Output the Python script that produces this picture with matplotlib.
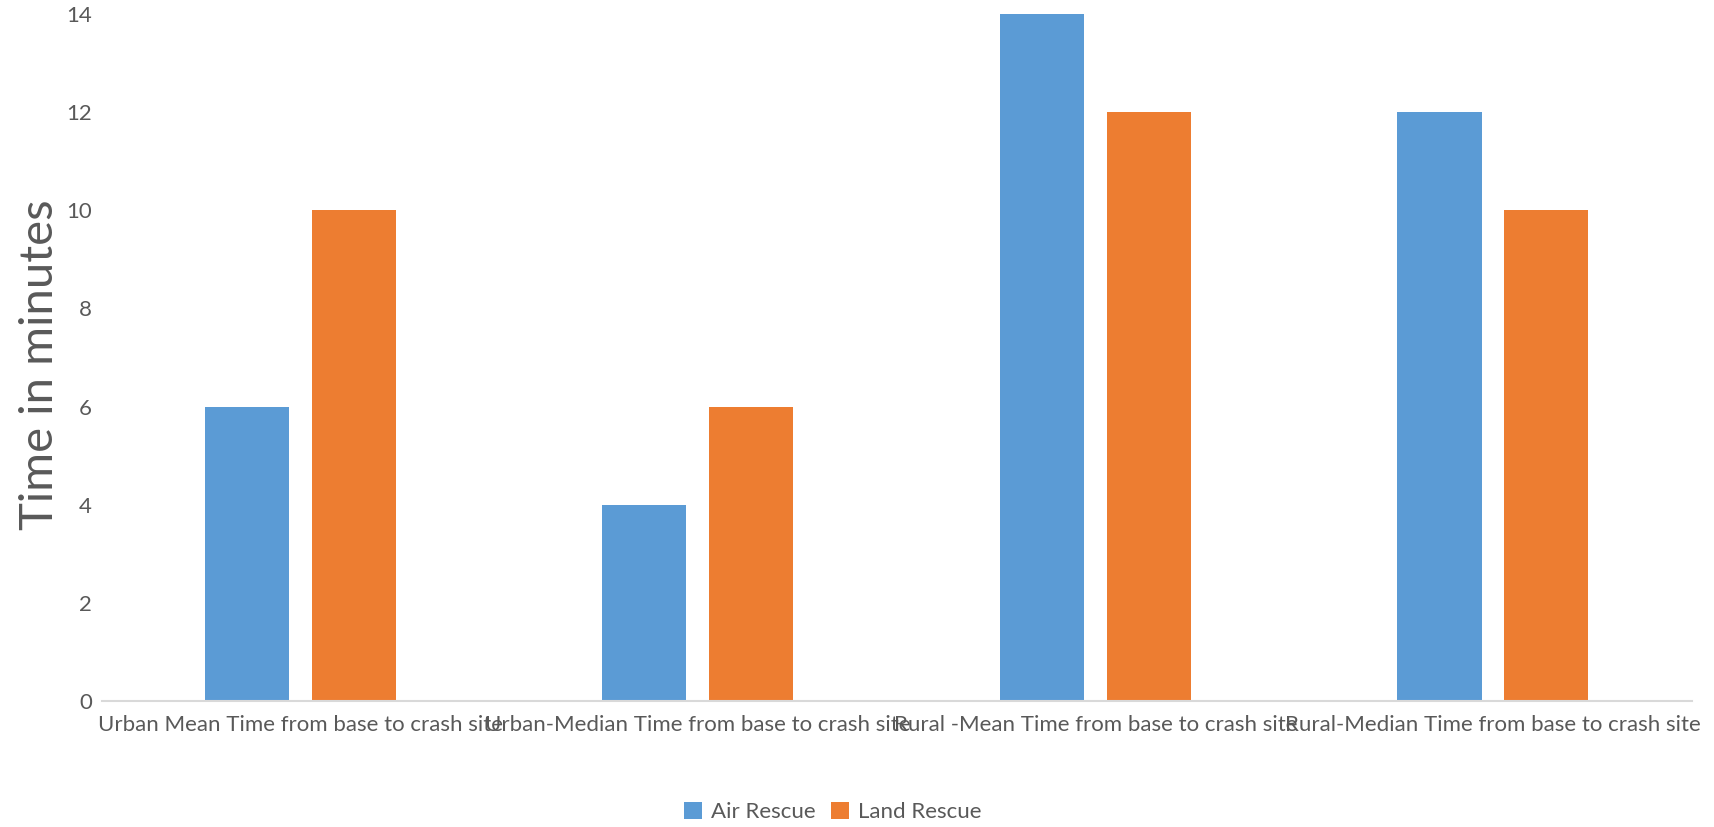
import numpy as np
import matplotlib.pyplot as plt

plt.rcParams['font.family'] = ['Lato', 'DejaVu Sans']

categories = ['Urban Mean Time from base to crash site',
              'Urban-Median Time from base to crash site',
              'Rural -Mean Time from base to crash site',
              'Rural-Median Time from base to crash site']
air_rescue = [6, 4, 14, 12]
land_rescue = [10, 6, 12, 10]

blue = '#5B9BD5'
orange = '#ED7D31'
grey = '#595959'

fig = plt.figure(figsize=(17.14, 8.27), dpi=100)
ax = fig.add_axes([0.0593, 0.1527, 0.9277, 0.8301])

x = np.arange(len(categories))
width = 0.2115
offset = 0.1345
ax.bar(x - offset, air_rescue, width, color=blue, label='Air Rescue', zorder=2)
ax.bar(x + offset, land_rescue, width, color=orange, label='Land Rescue', zorder=2)

ax.set_xlim(-0.5, len(categories) - 0.5)
ax.set_ylim(0, 14)
ax.set_yticks(np.arange(0, 15, 2))
ax.set_xticks(x)
ax.set_xticklabels(categories, fontsize=16, color=grey)
ax.tick_params(axis='y', labelsize=16, labelcolor=grey, length=0, pad=7)
ax.tick_params(axis='x', length=0, pad=10)

for side in ['top', 'right', 'left']:
    ax.spines[side].set_visible(False)
ax.spines['bottom'].set_color('#D9D9D9')
ax.spines['bottom'].set_linewidth(1.5)
ax.spines['bottom'].set_zorder(3)

ax.set_ylabel('Time in minutes', fontsize=34, color=grey, va='center')
ax.yaxis.set_label_coords(-0.0388, 0.49)

fig.legend(loc='center', bbox_to_anchor=(0.486, 0.018), ncol=2, frameon=False,
           fontsize=16, labelcolor=grey, handlelength=0.8, handleheight=0.8,
           handletextpad=0.4, columnspacing=0.7)

plt.savefig('out.png', dpi=100)
